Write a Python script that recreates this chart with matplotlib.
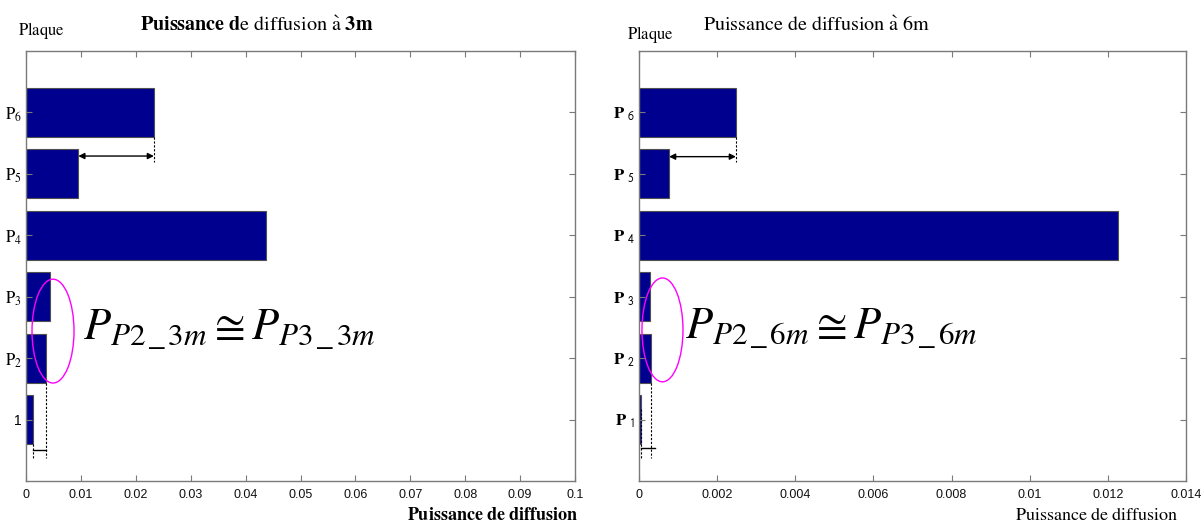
import matplotlib
matplotlib.use("Agg")
import matplotlib.pyplot as plt
from matplotlib.patches import Ellipse

plt.rcParams['mathtext.fontset'] = 'stix'
plt.rcParams['font.family'] = ['Liberation Sans', 'DejaVu Sans']

# Scattered power per plate, at 3 m and at 6 m
plates = [1, 2, 3, 4, 5, 6]
power_3m = [0.00122, 0.00358, 0.00437, 0.0438, 0.00953, 0.0233]
power_6m = [0.00005, 0.00030, 0.00028, 0.01226, 0.00077, 0.00248]

labels_3m = ['1', r'$\mathrm{P}_{2}$', r'$\mathrm{P}_{3}$', r'$\mathrm{P}_{4}$',
             r'$\mathrm{P}_{5}$', r'$\mathrm{P}_{6}$']
labels_6m = [r'$\mathbf{P}\ _{\mathsf{%d}}$' % k for k in plates]

xticks_3m = [0, 0.01, 0.02, 0.03, 0.04, 0.05, 0.06, 0.07, 0.08, 0.09, 0.1]
xticklabels_3m = ['0', '0.01', '0.02', '0.03', '0.04', '0.05', '0.06', '0.07', '0.08', '0.09', '0.1']
xticks_6m = [0, 0.002, 0.004, 0.006, 0.008, 0.01, 0.012, 0.014]
xticklabels_6m = ['0', '0.002', '0.004', '0.006', '0.008', '0.01', '0.012', '0.014']

BAR = '#00008f'
GRAY = '#7a7a7a'

fig = plt.figure(figsize=(12.04, 5.22), dpi=100)
ax1 = fig.add_axes([26 / 1204, 41 / 522, 549 / 1204, 430 / 522])
ax2 = fig.add_axes([639 / 1204, 41 / 522, 547 / 1204, 430 / 522])


def style(ax, values, ylabels, xt, xtl, xmax):
    ax.barh(plates, values, height=0.8, color=BAR, edgecolor='#505050', linewidth=0.8)
    ax.set_xlim(0, xmax)
    ax.set_ylim(0, 7)
    ax.set_xticks(xt)
    ax.set_xticklabels(xtl, fontsize=9, color='#111111')
    ax.set_yticks(plates)
    ax.set_yticklabels(ylabels, fontsize=12)
    ax.tick_params(direction='in', top=True, right=True, length=4, color=GRAY, width=0.8)
    ax.tick_params(axis='x', pad=6)
    ax.tick_params(axis='y', pad=3)
    for s in ax.spines.values():
        s.set_color(GRAY)
        s.set_linewidth(1.0)


style(ax1, power_3m, labels_3m, xticks_3m, xticklabels_3m, 0.1)
style(ax2, power_6m, labels_6m, xticks_6m, xticklabels_6m, 0.014)
ax1.get_yticklabels()[0].set_fontsize(10)


def annotate(ax, vals, arrow_y, low_y, bracket, ell_xy, ell_w, eq, eq_xy):
    p1, p2, p5, p6 = vals[0], vals[1], vals[4], vals[5]
    # difference between P5 and P6
    ax.annotate('', xy=(p6, arrow_y), xytext=(p5, arrow_y),
                arrowprops=dict(arrowstyle='<|-|>', color='black', lw=1.0,
                                shrinkA=0, shrinkB=0, mutation_scale=9))
    ax.plot([p6, p6], [5.6, 5.19], ls=(0, (2, 1.5)), color='black', lw=0.8)
    # difference between P1 and P2
    ax.plot([p1, p1], [low_y, 0.37], ls=(0, (2, 1.5)), color='black', lw=0.8)
    ax.plot([p2, p2], [1.6, 0.37], ls=(0, (2, 1.5)), color='black', lw=0.8)
    ax.plot([p1, p2 + bracket[1]], [bracket[0], bracket[0]], color='black', lw=1.0)
    ax.add_patch(Ellipse(ell_xy, ell_w, 1.69, fill=False, edgecolor='#ff00ff', lw=1.0))
    ax.text(eq_xy[0], eq_xy[1], eq, fontsize=32, va='baseline', ha='left')


annotate(ax1, power_3m, 5.29, 0.6, (0.51, 0.0), (0.00492, 2.44), 0.00765,
         r'$P_{P2\,\_\,3m}\cong P_{P3\,\_\,3m}$', (0.0104, 2.30))
annotate(ax2, power_6m, 5.28, 1.17, (0.53, 0.0001), (0.000601, 2.46), 0.00105,
         r'$P_{P2\,\_\,6m}\cong P_{P3\,\_\,6m}$', (0.00118, 2.31))

# Titles and axis captions
fig.text(140 / 1204, 1 - 31 / 522,
         r'$\mathbf{Puissance\ d}\mathrm{e\ diffusion\ \`a\ }\mathbf{3m}$',
         fontsize=14.5, ha='left', va='baseline')
fig.text(703 / 1204, 1 - 31 / 522, r'$\mathrm{Puissance\ de\ diffusion\ \`a\ 6m}$',
         fontsize=14.5, ha='left', va='baseline')
fig.text(18 / 1204, 1 - 35 / 522, r'$\mathrm{Plaque}$', fontsize=12, ha='left', va='baseline')
fig.text(627 / 1204, 1 - 39 / 522, r'$\mathrm{Plaque}$', fontsize=12, ha='left', va='baseline')
fig.text(578 / 1204, 1 - 520 / 522, r'$\mathbf{Puissance\ de\ diffusion}$',
         fontsize=13, ha='right', va='baseline')
fig.text(1178 / 1204, 1 - 520 / 522, r'$\mathrm{Puissance\ de\ diffusion}$',
         fontsize=13, ha='right', va='baseline')

fig.savefig('out.png', dpi=100, facecolor='white')
